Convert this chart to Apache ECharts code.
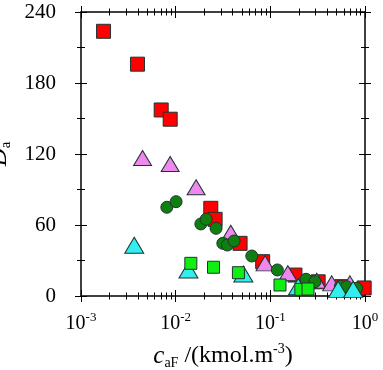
<!DOCTYPE html>
<html>
<head>
<meta charset="utf-8">
<style>
  html, body { margin: 0; padding: 0; background: #fff; }
  #chart { width: 383px; height: 370px; }
</style>
</head>
<body>
<div id="chart"></div>
<script src="https://cdn.jsdelivr.net/npm/echarts@6/dist/echarts.min.js"></script>
<script>
// c_aF (kmol/m3) vs D_a
const redX = [0.00173, 0.00395, 0.00703, 0.00875, 0.0235, 0.0261, 0.0479, 0.083, 0.182, 0.32, 0.566, 0.98]
const redY = [223.7, 195.9, 157.2, 149.4, 74.1, 64.8, 44.5, 29, 17.7, 12, 7.9, 6.8]

const violetX = [0.00447, 0.00875, 0.01644, 0.0382, 0.088, 0.153, 0.309, 0.445, 0.693]
const violetY = [116.6, 111.6, 91.9, 53.5, 27.6, 19.2, 12.9, 10.7, 10.7]

const darkGreenX = [0.00807, 0.0101, 0.01845, 0.021, 0.0267, 0.0315, 0.0352, 0.0414, 0.0637, 0.1186, 0.238, 0.296, 0.55, 0.64, 0.815]
const darkGreenY = [75, 79.7, 60.9, 64.8, 57.2, 44.5, 43.1, 46.5, 33.8, 22, 14.1, 12.1, 8.3, 7.9, 6.5]

const cyanX = [0.00365, 0.01365, 0.0519, 0.197, 0.521, 0.75]
const cyanY = [42.9, 22, 18.6, 7.9, 5.6, 5.6]

const lightGreenX = [0.01446, 0.0251, 0.046, 0.1265, 0.21, 0.25]
const lightGreenY = [27.6, 24.3, 19.7, 9.3, 5.6, 5.9]

const yTicks = [0, 60, 120, 180, 240]

const zip = (xs, ys) => xs.map((x, i) => [x, ys[i]])

const serif = 'Liberation Serif'
const border = '#1f3333'

// kind: 'line' = axis line + outer ticks (+labels)
//       'major' / 'minor' = inner half of the ticks, shifted into the plot
function xAx (pos, kind, labels) {
  return {
    type: 'log',
    logBase: 10,
    min: 0.001,
    max: 1,
    position: pos,
    offset: kind === 'major' ? -6 : (kind === 'minor' ? -3.5 : 0),
    axisLine: { show: kind === 'line', onZero: false, lineStyle: { color: '#000', width: 1.5 } },
    axisTick: { show: kind !== 'minor', length: 6 },
    minorTick: { show: kind !== 'major', splitNumber: 9, length: 3.5 },
    splitLine: { show: false },
    axisLabel: labels ? {
      show: true,
      margin: 15,
      formatter: v => '{b|10}{s|' + Math.round(Math.log10(v)) + '}',
      rich: {
        b: { fontFamily: serif, fontSize: 20, color: '#000' },
        s: { fontFamily: serif, fontSize: 13, color: '#000', padding: [0, 0, 12, 0] }
      }
    } : { show: false }
  }
}

function yAx (pos, kind, labels) {
  return {
    type: 'value',
    min: 0,
    max: 240,
    interval: 60,
    position: pos,
    offset: kind === 'major' ? -6 : (kind === 'minor' ? -4 : 0),
    axisLine: { show: kind === 'line', onZero: false, lineStyle: { color: '#000', width: 1.5 } },
    axisTick: { show: kind !== 'minor', length: 6 },
    minorTick: { show: kind !== 'major', splitNumber: 2, length: 4 },
    splitLine: { show: false },
    axisLabel: labels ? {
      show: true,
      margin: 25,
      fontFamily: serif,
      fontSize: 21,
      color: '#000',
      formatter: v => (yTicks.indexOf(v) >= 0 ? String(v) : '')
    } : { show: false }
  }
}

const chart = echarts.init(document.getElementById('chart'))

const xMain = xAx('bottom', 'line', true)
xMain.name = '{i|c}{sub|aF}{n| /(kmol.m}{sup|-3}{n|)}'
xMain.nameLocation = 'middle'
xMain.nameGap = 46
xMain.nameTextStyle = {
  rich: {
    i: { fontFamily: serif, fontStyle: 'italic', fontSize: 25, color: '#000' },
    sub: { fontFamily: serif, fontSize: 14, color: '#000', padding: [14, 0, 0, 0] },
    n: { fontFamily: serif, fontSize: 24, color: '#000' },
    sup: { fontFamily: serif, fontSize: 14, color: '#000', padding: [0, 0, 14, 0] }
  }
}

const yMain = yAx('left', 'line', true)
yMain.name = '{i|D}{sub|a}'
yMain.nameLocation = 'middle'
yMain.nameGap = 34
yMain.nameTextStyle = {
  rich: {
    i: { fontFamily: serif, fontStyle: 'italic', fontSize: 25, color: '#000' },
    sub: { fontFamily: serif, fontSize: 15, color: '#000', padding: [14, 0, 0, 0] }
  }
}

function sc (name, data, symbol, size, color) {
  return {
    name: name,
    type: 'scatter',
    xAxisIndex: 0,
    yAxisIndex: 0,
    symbol: symbol,
    symbolSize: size,
    data: data,
    itemStyle: { color: color, borderColor: border, borderWidth: 1, opacity: 1 },
    emphasis: { disabled: true }
  }
}

chart.setOption({
  animation: false,
  backgroundColor: '#fff',
  grid: { left: 81, right: 18, top: 12, bottom: 74, containLabel: false, outerBoundsMode: 'none' },
  xAxis: [
    xMain, xAx('bottom', 'major', false), xAx('bottom', 'minor', false),
    xAx('top', 'line', false), xAx('top', 'major', false), xAx('top', 'minor', false)
  ],
  yAxis: [
    yMain, yAx('left', 'major', false), yAx('left', 'minor', false),
    yAx('right', 'line', false), yAx('right', 'major', false), yAx('right', 'minor', false)
  ],
  series: [
    sc('red', zip(redX, redY), 'rect', 14, '#ff0000'),
    sc('violet', zip(violetX, violetY), 'triangle', [18, 15], '#ee88ee'),
    sc('darkgreen', zip(darkGreenX, darkGreenY), 'circle', 12, '#0f800f'),
    sc('cyan', zip(cyanX, cyanY), 'triangle', [19, 16], '#33eeee'),
    sc('lightgreen', zip(lightGreenX, lightGreenY), 'rect', 12, '#11ee11')
  ]
})
</script>
</body>
</html>
